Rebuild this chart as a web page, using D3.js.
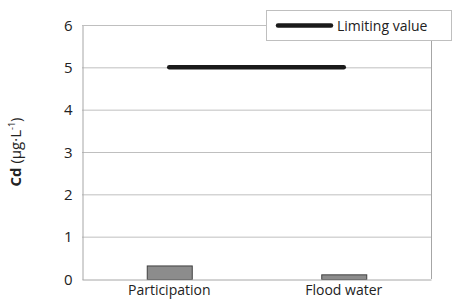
<!DOCTYPE html>
<html><head><meta charset="utf-8">
<script src="https://cdn.jsdelivr.net/npm/d3@7"></script>
<style>body{margin:0;background:#fff}svg{display:block}text{font-family:"Open Sans","Liberation Sans",sans-serif}</style>
</head><body><svg id="c" width="452" height="302"></svg>
<script>
const categories = ["Participation", "Flood water"];
const cdValues = [0.32, 0.11];
const limitValues = [5, 5];
const yTicks = [0, 1, 2, 3, 4, 5, 6];
const legendLabel = "Limiting value";

const svg = d3.select("#c");
const m = {l: 82, r: 21, t: 25, b: 23};
const W = 452, H = 302;
const x = d3.scaleBand().domain(categories).range([m.l, W - m.r]);
const y = d3.scaleLinear().domain([0, 6]).range([H - m.b, m.t]);

// gridlines
svg.append("g").selectAll("line").data(yTicks.slice(1)).join("line")
  .attr("x1", m.l).attr("x2", W - m.r)
  .attr("y1", d => y(d) + 0.5).attr("y2", d => y(d) + 0.5)
  .attr("stroke", "#bfbfbf").attr("stroke-width", 1);

// right border
svg.append("line").attr("x1", W - m.r + 0.5).attr("x2", W - m.r + 0.5)
  .attr("y1", y(6)).attr("y2", y(0)).attr("stroke", "#a6a6a6");

// y axis
const ya = d3.axisLeft(y).tickValues(yTicks).tickFormat(d3.format("d")).tickSize(0).tickPadding(10);
const yg = svg.append("g").attr("transform", `translate(${m.l + 0.5},0.5)`).call(ya);
yg.select(".domain").attr("stroke", "#a6a6a6");
yg.selectAll("text").attr("font-size", 15).attr("fill", "#222");

// bars
const bw = 45;
svg.append("g").selectAll("rect").data(categories).join("rect")
  .attr("x", d => x(d) + x.bandwidth() / 2 - bw / 2 + 0.5)
  .attr("y", (d, i) => y(cdValues[i]) + 0.5)
  .attr("width", bw)
  .attr("height", (d, i) => y(0) - y(cdValues[i]))
  .attr("fill", "#8c8c8c").attr("stroke", "#404040").attr("stroke-width", 1);

// x axis
const xa = d3.axisBottom(x).tickSize(0).tickPadding(6);
const xg = svg.append("g").attr("transform", `translate(0,${y(0) + 0.5})`).call(xa);
xg.select(".domain").attr("stroke", "#a6a6a6");
xg.selectAll("text").attr("font-size", 14).attr("fill", "#222");

// limit line
const line = d3.line().x(d => x(d) + x.bandwidth() / 2).y((d, i) => y(limitValues[i]));
svg.append("path").datum(categories).attr("d", line)
  .attr("fill", "none").attr("stroke", "#1a1a1a").attr("stroke-width", 4.5).attr("stroke-linecap", "round");

// legend
const lg = svg.append("g").attr("transform", "translate(266,10)");
lg.append("rect").attr("x", 0.5).attr("y", 0.5).attr("width", 185).attr("height", 30)
  .attr("fill", "#fff").attr("stroke", "#bfbfbf");
lg.append("line").attr("x1", 12).attr("x2", 65).attr("y1", 15.5).attr("y2", 15.5)
  .attr("stroke", "#1a1a1a").attr("stroke-width", 4.5).attr("stroke-linecap", "round");
lg.append("text").attr("x", 71).attr("y", 20.5).attr("font-size", 14).attr("fill", "#222").text(legendLabel);

// y title
const yt = svg.append("text").attr("transform", `translate(21,${(y(0) + y(6)) / 2}) rotate(-90)`)
  .attr("text-anchor", "middle").attr("font-size", 15).attr("fill", "#222");
yt.append("tspan").attr("font-weight", "bold").text("Cd");
yt.append("tspan").text(" (μg·L");
yt.append("tspan").attr("font-size", 9).attr("dy", -6).text("-1");
yt.append("tspan").attr("dy", 6).text(")");
</script></body></html>
